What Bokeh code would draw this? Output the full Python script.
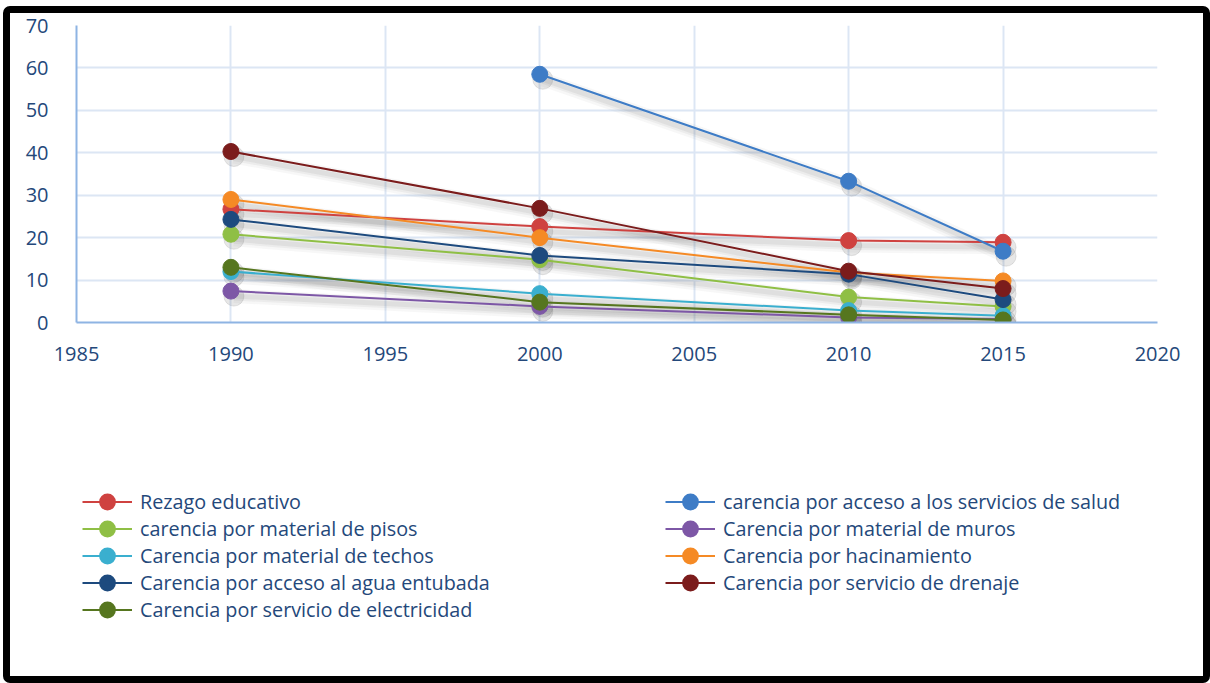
import numpy as np
from bokeh.plotting import figure
from bokeh.layouts import column
from bokeh.models import Range1d, Legend, LegendItem, FixedTicker
from bokeh.embed import file_html
from bokeh.resources import INLINE

years = [1990, 2000, 2010, 2015]
series_names = [
    "Rezago educativo",
    "carencia por acceso a los servicios de salud",
    "carencia por material de pisos",
    "Carencia por material de muros",
    "Carencia por material de techos",
    "Carencia por hacinamiento",
    "Carencia por acceso al agua entubada",
    "Carencia por servicio de drenaje",
    "Carencia por servicio de electricidad",
]
rezago = [26.7, 22.6, 19.3, 18.9]
salud = [np.nan, 58.5, 33.3, 16.8]
pisos = [20.8, 14.8, 6.0, 3.8]
muros = [7.4, 3.8, 1.2, 0.8]
techos = [12.0, 6.8, 2.8, 1.6]
hacinamiento = [29.0, 20.0, 11.8, 9.8]
agua = [24.3, 15.8, 11.4, 5.4]
drenaje = [40.3, 26.9, 12.1, 8.0]
electricidad = [13.0, 4.8, 1.8, 0.6]
series_values = [rezago, salud, pisos, muros, techos, hacinamiento, agua, drenaje, electricidad]
colors = ["#CF4240", "#3E7CC6", "#8FBF45", "#7D57A6", "#3AAFCF",
          "#F58A25", "#1D4A7E", "#7B1C1C", "#56761F"]
x_ticks = [1985, 1990, 1995, 2000, 2005, 2010, 2015, 2020]
y_ticks = [0, 10, 20, 30, 40, 50, 60, 70]

FONT = "Open Sans"
TXT = "#24487A"

INNER_W = 1193
H1 = 389
H2 = 663 - H1
BL, BR = 66, 46

p = figure(width=INNER_W, height=H1, output_backend="svg", toolbar_location=None,
           x_range=Range1d(1985, 2020), y_range=Range1d(0, 70),
           min_border_left=BL, min_border_right=BR, min_border_top=12, min_border_bottom=80)
p.outline_line_color = None
p.background_fill_color = "white"
p.border_fill_color = "white"

# shadow ranges (shifted a few pixels down/right)
fw, fh = 1081, 297
dx = 3 * 35 / fw
dy = 5 * 70 / fh
p.extra_x_ranges = {"sx": Range1d(1985 - dx, 2020 - dx)}
p.extra_y_ranges = {"sy": Range1d(0 + dy, 70 + dy)}

for ax in (p.xaxis, p.yaxis):
    ax.axis_line_color = "#8EB4E3"
    ax.axis_line_width = 2
    ax.major_tick_line_color = None
    ax.minor_tick_line_color = None
    ax.major_label_text_font = FONT
    ax.major_label_text_font_size = "20px"
    ax.major_label_text_color = TXT
p.xaxis.ticker = FixedTicker(ticks=x_ticks)
p.yaxis.ticker = FixedTicker(ticks=y_ticks)
p.xaxis.major_label_standoff = 18
p.yaxis.major_label_standoff = 22

p.xgrid.ticker = FixedTicker(ticks=x_ticks)
p.ygrid.ticker = FixedTicker(ticks=y_ticks)
for g in (p.xgrid, p.ygrid):
    g.grid_line_color = "#DCE6F4"
    g.grid_line_width = 2

# shadows
for vals in series_values:
    for w, a in ((14, 0.05), (9, 0.07), (5, 0.09)):
        p.line(years, vals, line_width=w, color="#606060", alpha=a,
               x_range_name="sx", y_range_name="sy")
    p.scatter(years, vals, size=20, color="#606060", alpha=0.15,
              x_range_name="sx", y_range_name="sy")

for name, vals, c in zip(series_names, series_values, colors):
    p.line(years, vals, line_width=2, color=c)
    p.scatter(years, vals, size=16, fill_color=c, line_color=c, line_width=1)

# legend figure
q = figure(width=INNER_W, height=H2, output_backend="svg", toolbar_location=None,
           x_range=Range1d(0, 1), y_range=Range1d(0, 1),
           x_axis_type=None, y_axis_type=None,
           min_border_left=BL, min_border_top=80, min_border_right=BR, min_border_bottom=0)
q.outline_line_color = None
q.xgrid.visible = False
q.ygrid.visible = False
q.border_fill_color = "white"

items = []
for name, vals, c in zip(series_names, series_values, colors):
    l = q.line(years, vals, line_width=2, color=c)
    s = q.scatter(years, vals, size=16, fill_color=c, line_color=c, line_width=6)
    items.append(LegendItem(label=name, renderers=[l, s]))

lg = Legend(items=items, location="top_left", orientation="horizontal", ncols=2)
lg.label_text_font = FONT
lg.label_text_font_size = "19.8px"
lg.label_text_color = TXT
lg.glyph_width = 50
lg.glyph_height = 27
lg.label_height = 27
lg.label_width = 525
lg.spacing = 0
lg.padding = 0
lg.margin = 6
lg.label_standoff = 8
lg.border_line_color = None
lg.background_fill_alpha = 0
q.add_layout(lg, "center")

layout = column(p, q, spacing=0)
layout.styles = {"border": "7px solid black", "border-radius": "7px",
                 "box-sizing": "border-box", "margin-left": "3px", "margin-top": "6px",
                 "background": "white"}
layout.width = 1207
layout.height = 677

open("out.html", "w").write(file_html(layout, INLINE))
